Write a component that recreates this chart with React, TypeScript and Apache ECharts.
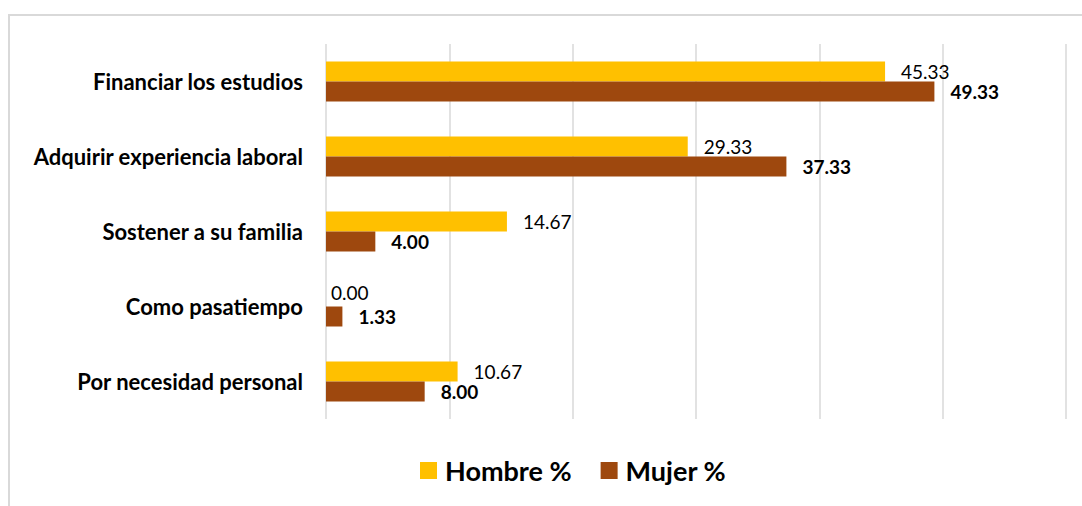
import React, { useEffect, useRef } from "react";
import * as echarts from "echarts";

const categories = [
  "Financiar los estudios",
  "Adquirir experiencia laboral",
  "Sostener a su familia",
  "Como pasatiempo",
  "Por necesidad personal",
];
const hombre = [45.33, 29.33, 14.67, 0.0, 10.67];
const mujer = [49.33, 37.33, 4.0, 1.33, 8.0];
const seriesNames = ["Hombre %", "Mujer %"];

const FONT = "Lato";

export default function App() {
  const ref = useRef<HTMLDivElement>(null);
  useEffect(() => {
    if (!ref.current) return;
    const chart = echarts.init(ref.current, undefined, { renderer: "svg" });
    chart.setOption({
      animation: false,
      textStyle: { fontFamily: FONT },
      graphic: [
        {
          type: "rect",
          shape: { x: 9, y: 15, width: 2000, height: 2000 },
          style: { fill: "none", stroke: "#d9d9d9", lineWidth: 2 },
          silent: true,
        },
      ],
      grid: { left: 326, right: 16, top: 44, bottom: 87 },
      legend: {
        data: seriesNames,
        bottom: 17,
        left: 415,
        itemWidth: 17,
        itemHeight: 17,
        itemGap: 29,
        icon: "rect",
        textStyle: {
          fontFamily: FONT,
          fontSize: 27,
          fontWeight: "bold",
          color: "#000",
          padding: [0, 0, 0, 3],
        },
      },
      xAxis: {
        type: "value",
        min: 0,
        max: 60,
        interval: 10,
        axisLabel: { show: false },
        axisLine: { show: false },
        axisTick: { show: false },
        splitLine: { lineStyle: { color: "#d9d9d9", width: 1.5 } },
      },
      yAxis: {
        type: "category",
        data: categories,
        inverse: true,
        axisLine: { show: false },
        axisTick: { show: false },
        axisLabel: {
          margin: 23,
          fontFamily: FONT,
          fontSize: 22,
          fontWeight: "bold",
          color: "#000",
        },
      },
      series: [
        {
          name: seriesNames[0],
          type: "bar",
          data: hombre.map((v) =>
            v === 0
              ? { value: v, label: { distance: 5, offset: [0, -4] } }
              : v
          ),
          barWidth: 20,
          barGap: "0%",
          itemStyle: { color: "#FFC000" },
          label: {
            show: true,
            position: "right",
            distance: 16,
            formatter: (p: any) => Number(p.value).toFixed(2),
            fontFamily: FONT,
            fontSize: 19,
            color: "#000",
          },
        },
        {
          name: seriesNames[1],
          type: "bar",
          data: mujer,
          barWidth: 20,
          barGap: "0%",
          itemStyle: { color: "#9E480E" },
          label: {
            show: true,
            position: "right",
            distance: 16,
            formatter: (p: any) => Number(p.value).toFixed(2),
            fontFamily: FONT,
            fontSize: 19,
            fontWeight: "bold",
            color: "#000",
          },
        },
      ],
    });
    return () => chart.dispose();
  }, []);
  return (
    <div
      ref={ref}
      style={{
        position: "absolute",
        left: 0,
        top: 0,
        width: 1082,
        height: 506,
        background: "#fff",
      }}
    />
  );
}
